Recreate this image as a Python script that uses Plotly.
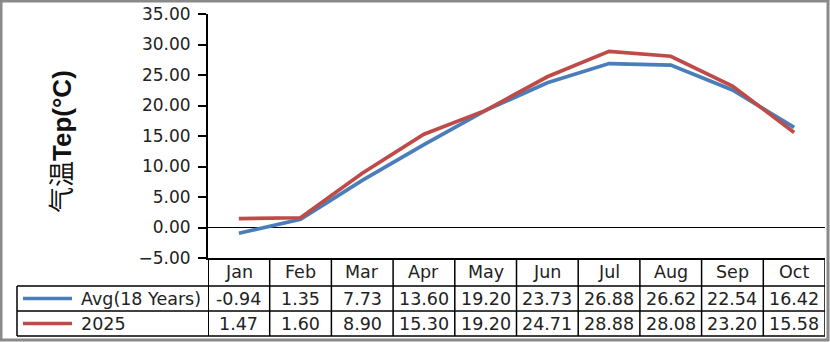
import plotly.graph_objects as go

months = ["Jan", "Feb", "Mar", "Apr", "May", "Jun", "Jul", "Aug", "Sep", "Oct"]
avg_18 = [-0.94, 1.35, 7.73, 13.60, 19.20, 23.73, 26.88, 26.62, 22.54, 16.42]
y2025 = [1.47, 1.60, 8.90, 15.30, 19.20, 24.71, 28.88, 28.08, 23.20, 15.58]
series_names = ["Avg(18 Years)", "2025"]
series_colors = ["#4A7EBB", "#BE4B48"]
y_ticks = [-5, 0, 5, 10, 15, 20, 25, 30, 35]

W, H = 830, 342
def px(y):
    return 1 - y / H

xs = list(range(len(months)))
fig = go.Figure()
for name, vals, col in zip(series_names, [avg_18, y2025], series_colors):
    fig.add_trace(go.Scatter(x=xs, y=vals, mode="lines", name=name,
                             line=dict(color=col, width=3.7), showlegend=False))

FONT = "DejaVu Sans"
fig.update_layout(
    width=W, height=H, margin=dict(l=0, r=0, t=0, b=0, pad=0, autoexpand=False),
    paper_bgcolor="white", plot_bgcolor="white",
    xaxis=dict(domain=[208 / W, 825 / W], range=[-0.5, len(months) - 0.5],
               showticklabels=False, showgrid=False, zeroline=False, automargin=False,
               showline=True, linecolor="black", linewidth=1.5, ticks=""),
    yaxis=dict(domain=[px(258), px(14)], range=[-5, 35], tickvals=y_ticks, automargin=False,
               tickformat=".2f", showgrid=False, zeroline=True, zerolinecolor="black",
               zerolinewidth=1.3, showline=True, linecolor="black", linewidth=2,
               ticks="outside", ticklen=8, tickwidth=1.5, tickcolor="black",
               ticklabelstandoff=4,
               tickfont=dict(family=FONT, size=17, color="#222")),
)

shapes = []
# table vertical lines
for i in range(len(months) + 1):
    shapes.append(dict(type="line", xref="x", yref="paper", x0=i - 0.5, x1=i - 0.5,
                       y0=px(336), y1=px(258), line=dict(color="black", width=2 if i == 0 else 1.5)))
# horizontal lines
for yy in [286, 311, 336]:
    shapes.append(dict(type="line", xref="paper", yref="paper", x0=17 / W, x1=825 / W,
                       y0=px(yy), y1=px(yy), line=dict(color="black", width=1.5)))
shapes.append(dict(type="line", xref="paper", yref="paper", x0=17 / W, x1=17 / W,
                   y0=px(336), y1=px(286), line=dict(color="black", width=1.5)))
# legend keys
for k, col in enumerate(series_colors):
    yy = 298.5 + 25 * k
    shapes.append(dict(type="line", xref="paper", yref="paper", x0=23 / W, x1=72 / W,
                       y0=px(yy), y1=px(yy), line=dict(color=col, width=3.5)))
# outer border
shapes.append(dict(type="rect", xref="paper", yref="paper", x0=1 / W, x1=1 - 2 / W,
                   y0=px(H - 2), y1=px(1), line=dict(color="#8a8a8a", width=3)))
fig.update_layout(shapes=shapes)

ann = []
tf = dict(family=FONT, size=17.5, color="#222")
for i, m in enumerate(months):
    for yy, txt in [(272, m), (298.5, f"{avg_18[i]:.2f}"), (323.5, f"{y2025[i]:.2f}")]:
        ann.append(dict(x=i, y=px(yy), xref="x", yref="paper", text=txt, showarrow=False,
                        xanchor="center", yanchor="middle", font=tf))
for k, name in enumerate(series_names):
    ann.append(dict(x=79 / W, y=px(298.5 + 25 * k), xref="paper", yref="paper", text=name,
                    xanchor="left", yanchor="middle", showarrow=False, font=tf))
ann.append(dict(x=62 / W, y=px(142), xref="paper", yref="paper", textangle=-90,
                xanchor="center", yanchor="middle",
                text="气温<b>Tep(°C)</b>", showarrow=False,
                font=dict(family="Liberation Sans, Noto Sans CJK SC", size=26, color="#111")))
fig.update_layout(annotations=ann)

fig.write_html("out.html")
